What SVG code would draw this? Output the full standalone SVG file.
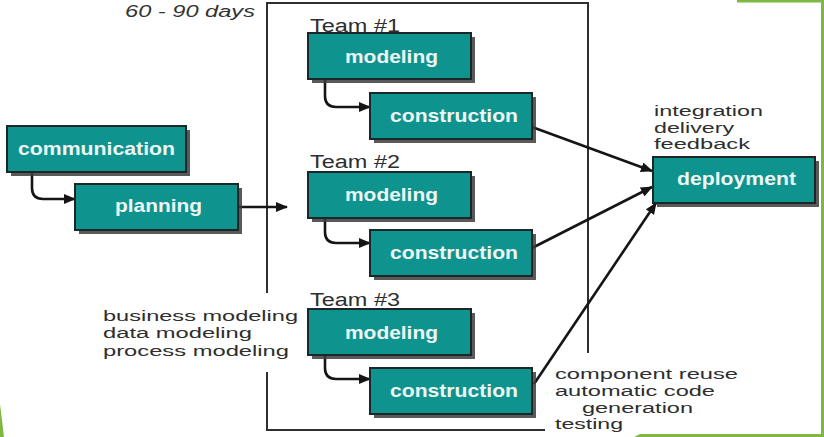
<svg xmlns="http://www.w3.org/2000/svg" width="824" height="437" viewBox="0 0 824 437">
<style>
.box{fill:#0e938f;stroke:#1b2727;stroke-width:2}
.sh{fill:#3c3c3c;opacity:0.85}
.bl{font-family:"Liberation Sans",Arial,sans-serif;font-weight:bold;font-size:18.5px;fill:#eef6f4}
.tx{font-family:"Liberation Sans",Arial,sans-serif;font-size:18px;fill:#2e2e2e}
.nt{font-family:"Liberation Sans",Arial,sans-serif;font-size:15.5px;fill:#2e2e2e}
.con{fill:none;stroke:#151515;stroke-width:2.6;marker-end:url(#ah)}
.frame{fill:none;stroke:#2f2f2f;stroke-width:2}
.green{fill:#7db843}
</style>
<defs>
<marker id="ah" markerUnits="userSpaceOnUse" markerWidth="12" markerHeight="10" refX="11" refY="5" orient="auto">
<path d="M0,0 L12,5 L0,10 Z" fill="#151515"/>
</marker>
</defs>
<rect width="824" height="437" fill="#ffffff"/>
<g id="decor">
<rect class="green" x="737" y="0" width="87" height="2.5"/>
<rect class="green" x="821" y="0" width="3" height="437"/>
<polygon class="green" points="634,437 640,434 824,434 824,437"/>
<polygon class="green" points="0,404 4,437 0,437"/>
</g>
<g id="frame">
<path class="frame" d="M267,293 V3 H588 V353"/>
<path class="frame" d="M267,372 V430 H545"/>
</g>
<text x="125" y="17" font-family="Liberation Sans, Arial, sans-serif" font-style="italic" font-size="16" fill="#333333" textLength="130" lengthAdjust="spacingAndGlyphs">60 - 90 days</text>
<g id="connectors">
<path class="con" d="M32,172 V188 Q32,199 43,199 H75"/>
<path class="con" d="M238,207 H287"/>
<path class="con" d="M325,79 V96 Q325,107 336,107 H370"/>
<path class="con" d="M325,218 V232 Q325,243 336,243 H370"/>
<path class="con" d="M325,355 V368 Q325,379 336,379 H370"/>
<path class="con" d="M532,127 L652,171"/>
<path class="con" d="M532,248 L652,187"/>
<path class="con" d="M534,384 L656,203"/>
</g>
<g id="communication">
<rect class="sh" x="11" y="130" width="179" height="46"/>
<rect class="box" x="7" y="126" width="179" height="46"/>
<text class="bl" x="18" y="155" textLength="157" lengthAdjust="spacingAndGlyphs">communication</text>
</g>
<g id="planning">
<rect class="sh" x="79" y="188" width="163" height="46"/>
<rect class="box" x="75" y="184" width="163" height="46"/>
<text class="bl" x="115" y="212" textLength="87" lengthAdjust="spacingAndGlyphs">planning</text>
</g>
<g id="team1">
<text class="tx" x="310" y="32" textLength="90" lengthAdjust="spacingAndGlyphs">Team #1</text>
</g>
<g id="modeling1">
<rect class="sh" x="312" y="37" width="163" height="46"/>
<rect class="box" x="308" y="33" width="163" height="46"/>
<text class="bl" x="345" y="63" textLength="93" lengthAdjust="spacingAndGlyphs">modeling</text>
</g>
<g id="construction1">
<rect class="sh" x="374" y="97" width="162" height="46"/>
<rect class="box" x="370" y="93" width="162" height="46"/>
<text class="bl" x="390" y="122" textLength="128" lengthAdjust="spacingAndGlyphs">construction</text>
</g>
<g id="team2">
<text class="tx" x="310" y="168" textLength="90" lengthAdjust="spacingAndGlyphs">Team #2</text>
</g>
<g id="modeling2">
<rect class="sh" x="312" y="176" width="163" height="46"/>
<rect class="box" x="308" y="172" width="163" height="46"/>
<text class="bl" x="345" y="201" textLength="93" lengthAdjust="spacingAndGlyphs">modeling</text>
</g>
<g id="construction2">
<rect class="sh" x="374" y="234" width="162" height="46"/>
<rect class="box" x="370" y="230" width="162" height="46"/>
<text class="bl" x="390" y="259" textLength="128" lengthAdjust="spacingAndGlyphs">construction</text>
</g>
<g id="team3">
<text class="tx" x="310" y="306" textLength="90" lengthAdjust="spacingAndGlyphs">Team #3</text>
</g>
<g id="modeling3">
<rect class="sh" x="312" y="313" width="163" height="46"/>
<rect class="box" x="308" y="309" width="163" height="46"/>
<text class="bl" x="345" y="339" textLength="93" lengthAdjust="spacingAndGlyphs">modeling</text>
</g>
<g id="construction3">
<rect class="sh" x="374" y="372" width="162" height="46"/>
<rect class="box" x="370" y="368" width="162" height="46"/>
<text class="bl" x="390" y="397" textLength="128" lengthAdjust="spacingAndGlyphs">construction</text>
</g>
<g id="deployment">
<rect class="sh" x="657" y="161" width="162" height="46"/>
<rect class="box" x="653" y="157" width="162" height="46"/>
<text class="bl" x="677" y="185" textLength="119" lengthAdjust="spacingAndGlyphs">deployment</text>
</g>
<g id="deploy-notes">
<text class="nt" x="654" y="116" textLength="109" lengthAdjust="spacingAndGlyphs">integration</text>
<text class="nt" x="654" y="133" textLength="80" lengthAdjust="spacingAndGlyphs">delivery</text>
<text class="nt" x="654" y="149" textLength="96" lengthAdjust="spacingAndGlyphs">feedback</text>
</g>
<g id="modeling-notes">
<text class="nt" x="103" y="321" textLength="195" lengthAdjust="spacingAndGlyphs">business modeling</text>
<text class="nt" x="103" y="338" textLength="149" lengthAdjust="spacingAndGlyphs">data modeling</text>
<text class="nt" x="103" y="356" textLength="186" lengthAdjust="spacingAndGlyphs">process modeling</text>
</g>
<g id="construction-notes">
<text class="nt" x="555" y="379" textLength="183" lengthAdjust="spacingAndGlyphs">component reuse</text>
<text class="nt" x="555" y="396" textLength="160" lengthAdjust="spacingAndGlyphs">automatic code</text>
<text class="nt" x="582" y="413" textLength="111" lengthAdjust="spacingAndGlyphs">generation</text>
<text class="nt" x="555" y="429" textLength="68" lengthAdjust="spacingAndGlyphs">testing</text>
</g>
</svg>
